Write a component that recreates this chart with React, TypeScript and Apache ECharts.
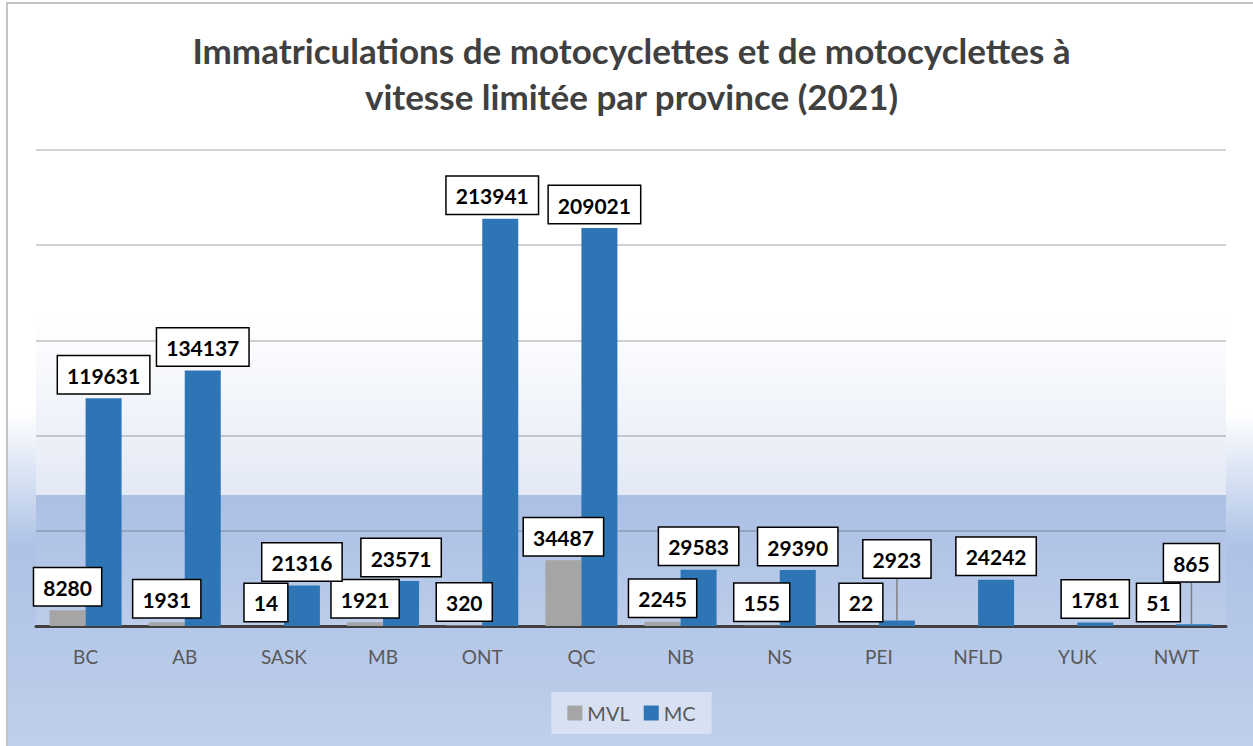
import React, { useEffect, useRef } from "react";
import * as echarts from "echarts";

const categories = ["BC", "AB", "SASK", "MB", "ONT", "QC", "NB", "NS", "PEI", "NFLD", "YUK", "NWT"];
const mvl: (number | null)[] = [8280, 1931, 14, 1921, 320, 34487, 2245, 155, 22, null, null, 51];
const mc: number[] = [119631, 134137, 21316, 23571, 213941, 209021, 29583, 29390, 2923, 24242, 1781, 865];
const seriesNames = ["MVL", "MC"];
const leaderIdx = [8, 11];
const titleText = "Immatriculations de motocyclettes et de motocyclettes à\nvitesse limitée par province (2021)";

export default function App() {
  const ref = useRef<HTMLDivElement>(null);
  useEffect(() => {
    if (!ref.current) return;
    const chart = echarts.init(ref.current, undefined, { renderer: "svg" });
    const font = "Lato, 'Open Sans', sans-serif";
    const labelBox = {
      show: true,
      position: "top" as const,
      distance: 5,
      color: "#000",
      fontFamily: font,
      fontWeight: "bold" as const,
      fontSize: 21,
      lineHeight: 22,
      backgroundColor: "#fff",
      borderColor: "#000",
      borderWidth: 1.5,
      padding: [8, 9, 7, 9],
    };
    const mcData = mc.map((v, i) =>
      leaderIdx.includes(i)
        ? { value: v, labelLine: { show: true, lineStyle: { color: "#808080", width: 1.5 } } }
        : { value: v }
    );
    chart.setOption({
      animation: false,
      backgroundColor: new echarts.graphic.LinearGradient(0, 0, 0, 1, [
        { offset: 0, color: "#ffffff" },
        { offset: 0.55, color: "#ffffff" },
        { offset: 0.73, color: "#adc2e6" },
        { offset: 1, color: "#c0cfeb" },
      ]),
      title: {
        text: titleText,
        left: "center",
        top: 18,
        textStyle: {
          fontFamily: font,
          fontWeight: "bold",
          fontSize: 35,
          lineHeight: 46,
          color: "#404040",
        },
      },
      legend: {
        data: seriesNames,
        bottom: 14,
        left: "center",
        icon: "rect",
        itemWidth: 15,
        itemHeight: 15,
        itemGap: 14,
        padding: [11, 16],
        backgroundColor: "rgba(255,255,255,0.4)",
        textStyle: { fontFamily: font, fontSize: 20, color: "#595959" },
      },
      grid: {
        show: true,
        left: 28,
        width: 1190,
        top: 146,
        bottom: 122,
        borderWidth: 0,
        backgroundColor: new echarts.graphic.LinearGradient(0, 0, 0, 1, [
          { offset: 0, color: "#ffffff" },
          { offset: 0.35, color: "#ffffff" },
          { offset: 0.724, color: "#e3e9f5" },
          { offset: 0.725, color: "#abc0e5" },
          { offset: 1, color: "#bccce9" },
        ]),
      },
      xAxis: {
        type: "category",
        data: categories,
        axisLine: { show: true, lineStyle: { color: "#404040", width: 3 } },
        axisTick: { show: false },
        axisLabel: { fontFamily: font, fontSize: 19, color: "#595959", margin: 21 },
      },
      yAxis: {
        type: "value",
        min: 0,
        max: 250000,
        interval: 50000,
        axisLabel: { show: false },
        axisLine: { show: false },
        axisTick: { show: false },
        splitLine: { lineStyle: { color: "rgba(80,80,80,0.35)", width: 1.5 } },
      },
      series: [
        {
          name: seriesNames[0],
          type: "bar",
          data: mvl,
          barWidth: 36,
          barGap: "0%",
          itemStyle: { color: "#a5a5a5" },
          label: labelBox,
        },
        {
          name: seriesNames[1],
          type: "bar",
          data: mcData,
          barWidth: 36,
          itemStyle: { color: "#2e75b6" },
          label: labelBox,
          labelLine: { show: false },
          labelLayout: (p: any) => {
            if (p.dataIndex === 8) return { dy: -38 };
            if (p.dataIndex === 11) return { dy: -38, dx: -3 };
            if (p.dataIndex === 4) return { dx: -8 };
            if (p.dataIndex === 5) return { dx: -5 };
            return {};
          },
        },
      ],
    });
    return () => chart.dispose();
  }, []);
  return (
    <div style={{ position: "absolute", left: 0, top: 0, width: 1253, height: 746, background: "#fff", overflow: "hidden" }}>
      <div style={{ position: "absolute", left: 6, top: 2, borderLeft: "2px solid #c4c4c4", borderTop: "2px solid #c4c4c4" }}>
        <div ref={ref} style={{ width: 1247, height: 744 }} />
      </div>
    </div>
  );
}
